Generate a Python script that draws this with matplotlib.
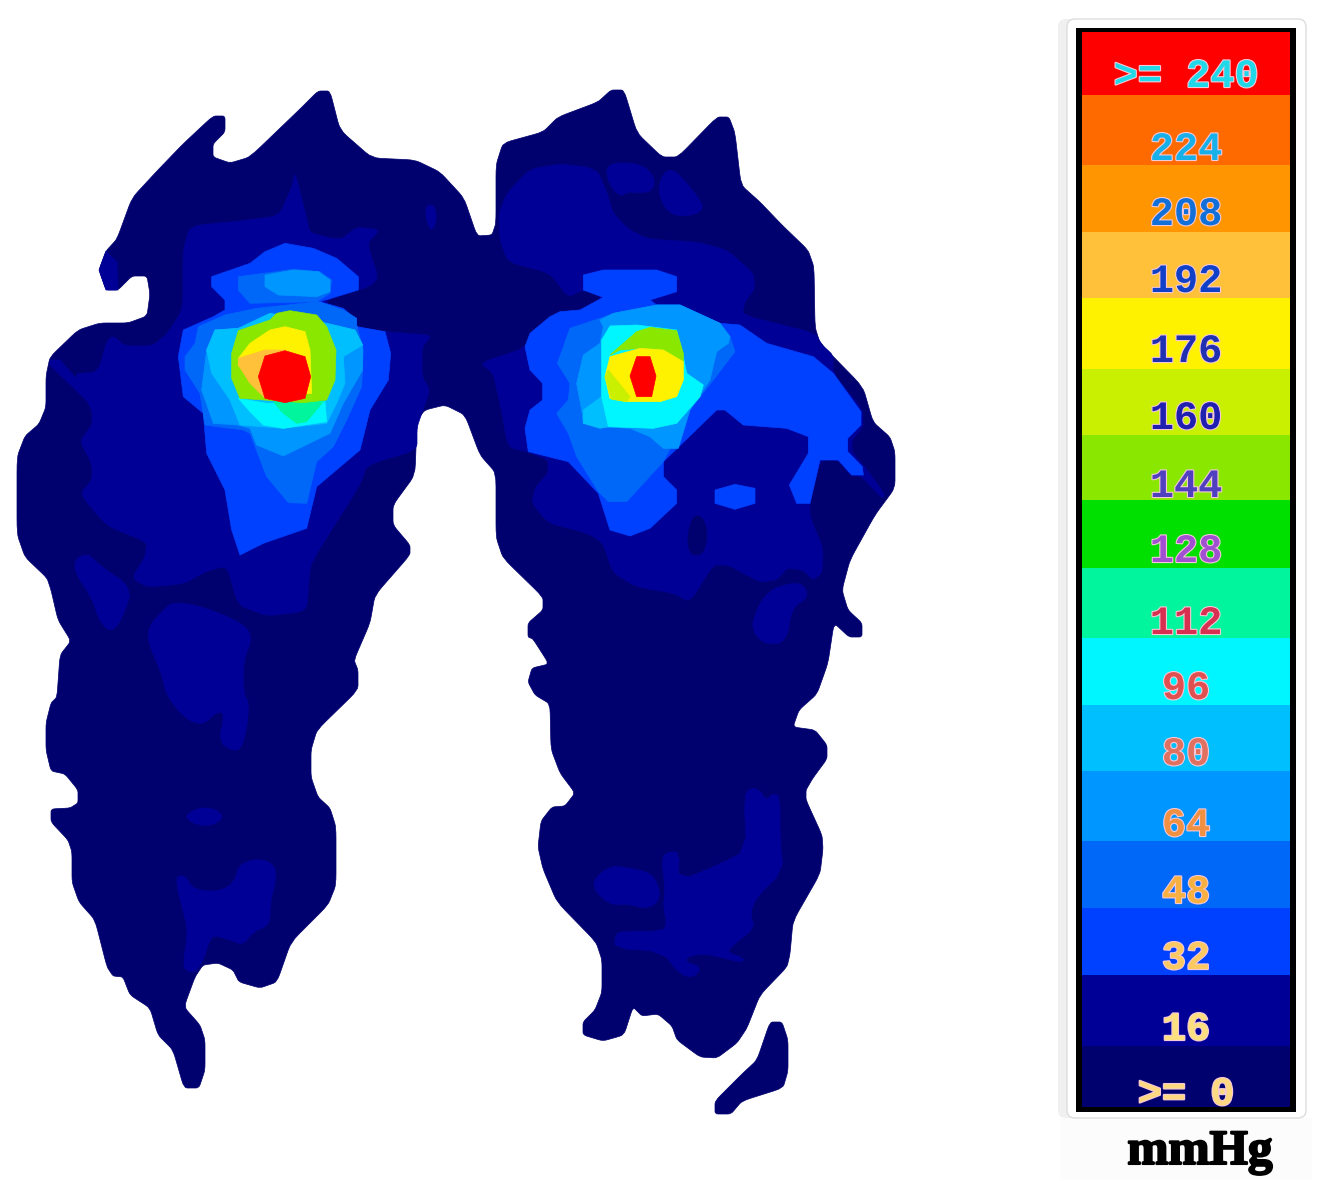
import numpy as np
import matplotlib
matplotlib.use('Agg')
import matplotlib.pyplot as plt
import matplotlib.patheffects as pe
from matplotlib.patches import FancyBboxPatch, Rectangle

# pressure scale (mmHg)
levels = [240, 224, 208, 192, 176, 160, 144, 128, 112, 96, 80, 64, 48, 32, 16, 0]
level_labels = ['>= 240', '224', '208', '192', '176', '160', '144', '128', '112', '96', '80', '64', '48', '32', '16', '>= 0']
level_cols = ['#ff0000', '#ff6a00', '#ff9500', '#ffc03a', '#fff200', '#c8f000', '#8ae800', '#00e000',
              '#00f59c', '#00f6ff', '#00bfff', '#0096ff', '#0068f8', '#0040ff', '#000096', '#00006e']
label_cols = ['#20d8e8', '#18b0e8', '#1070d8', '#1040c8', '#2030b0', '#2020b0', '#5040c0', '#a050d0',
              '#d83050', '#e05050', '#e07060', '#f09040', '#f8b040', '#fcc860', '#fce080', '#fcd880']
band_edges = [32, 95, 165, 232, 298, 369, 435, 500, 568, 638, 705, 771, 841, 908, 975, 1046, 1107]
label_y = [76, 149, 214, 281, 351, 418, 486, 551, 623, 688, 754, 825, 892, 958, 1029, 1094]
col_of = dict(zip(levels, level_cols))

# contour outlines, image pixels
feet_outline = [(213,116),(183,144),(157,171),(132,198),(117,239),(106,251),(99,270),(106,290),(118,290),(132,276),
    (147,276),(150,294),(147,316),(128,323),(100,323),(78,330),(50,357),(46,376),(46,407),(39,424),(25,436),(17,457),
    (17,534),(25,557),(47,578),(51,590),(58,620),(71,641),(60,655),(57,697),(51,703),(46,723),(46,750),(51,771),(65,774),
    (78,790),(78,803),(70,808),(51,809),(51,822),(68,840),(72,852),(72,882),(79,902),(95,920),(107,967),(113,976),(123,977),
    (130,995),(150,1008),(158,1035),(173,1050),(184,1088),(199,1088),(205,1070),(205,1040),(200,1025),(184,1007),(195,977),
    (203,965),(218,963),(233,970),(239,982),(260,988),(277,982),(291,942),(328,905),(336,885),(336,827),(330,808),(318,797),
    (311,777),(311,750),(317,730),(358,690),(358,670),(354,660),(370,623),(375,595),(410,555),(410,545),(393,525),(393,505),
    (415,475),(417,420),(425,410),(445,405),(465,415),(480,455),(496,473),(496,537),(503,558),(543,597),(543,610),(528,623),
    (528,637),(533,639),(549,664),(532,668),(528,682),(535,695),(550,704),(551,749),(560,773),(575,793),(565,806),(552,807),
    (541,821),(538,847),(543,869),(557,902),(596,942),(602,960),(602,992),(595,1010),(583,1022),(583,1035),(603,1041),
    (624,1035),(633,1007),(642,1016),(658,1014),(672,1026),(677,1040),(700,1057),(717,1058),(737,1043),(747,1028),(760,995),
    (787,967),(790,954),(793,921),(820,874),(823,849),(822,835),(806,800),(806,790),(813,778),(827,759),(827,745),(815,730),
    (793,727),(799,710),(817,694),(828,663),(834,623),(849,637),(862,637),(862,623),(848,610),(842,590),(850,560),(875,515),
    (895,488),(895,452),(890,437),(873,422),(863,387),(820,343),(815,327),(814,267),(808,250),(782,225),(760,202),(741,185),
    (735,133),(729,117),(717,117),(678,157),(662,157),(637,133),(624,90),(611,90),(598,102),(558,117),(543,132),(503,143),
    (496,165),(496,223),(492,235),(477,236),(464,198),(440,172),(415,160),(372,158),(340,130),(330,91),(318,91),(300,109),
    (250,157),(230,163),(213,157),(213,144),(225,132),(225,116)]
toe_piece = [(770,1022),(782,1022),(788,1040),(788,1071),(783,1088),(742,1101),(731,1114),(715,1114),(715,1101),(742,1074),(757,1060)]

left_16 = [(295,172),(292,187),(279,216),(240,221),(190,226),(183,251),(183,309),(167,334),(152,346),(125,346),(113,336),
    (107,341),(98,372),(73,374),(92,410),(92,425),(80,441),(92,464),(92,480),(80,494),(107,526),(147,542),(145,557),(132,578),
    (147,587),(183,584),(207,571),(227,566),(238,605),(267,616),(300,612),(307,607),(310,567),(317,553),(360,485),(367,465),
    (417,450),(417,427),(423,410),(430,390),(422,377),(422,347),(432,335),(387,332),(357,327),(320,302),(380,283),(367,243),
    (380,230),(357,227),(340,240),(310,233),(307,220)]
left_16_toe = [(99,270),(106,251),(117,262),(118,290),(106,290)]
left_16_strip = [(50,360),(60,360),(95,400),(88,402),(50,365)]
left_16_spot = [(426,205),(434,205),(437,218),(432,232),(426,220)]
left_16_a = [(75,559),(88,553),(100,566),(132,587),(125,612),(113,633),(100,623),(92,598),(75,573)]

# same kind of outlines, given in the coordinates of the zoomed crops
arch_z8 = [(430,65),(520,80),(640,130),(668,175),(640,240),(640,340),(660,375),(640,500),(610,515),(565,485),(585,400),
    (560,395),(520,435),(470,420),(410,350),(395,280),(355,190),(355,140),(400,90)]
spot_z8 = [(465,710),(490,690),(525,682),(560,690),(580,710),(560,730),(525,738),(490,730)]
heel_z8 = [(435,890),(465,885),(490,930),(570,935),(615,905),(625,855),(680,835),(730,850),(740,890),(720,970),(720,1035),
    (670,1055),(640,1095),(600,1080),(550,1065),(535,1090),(520,1140),(495,1180),(465,1170),(460,1145),(475,1050),(455,980)]

left_32 = [(405,70),(490,85),(560,115),(625,170),(625,210),(510,245),(580,265),(620,300),(620,320),(705,335),(722,400),
    (715,480),(660,570),(630,690),(500,800),(470,925),(340,970),(270,1005),(245,930),(225,810),(170,700),(160,580),(100,530),
    (85,410),(100,330),(190,290),(225,270),(225,240),(185,200),(185,170),(300,130),(345,95)]
left_48_top = [(265,170),(340,160),(430,148),(510,155),(545,180),(540,220),(500,245),(300,250),(265,210)]
left_64_top = [(345,165),(430,150),(505,155),(540,180),(540,215),(500,230),(385,225),(345,200)]
left_48 = [(105,410),(135,370),(145,320),(225,285),(320,265),(505,245),(580,270),(620,295),(620,315),(640,390),(635,500),
    (590,600),(550,680),(500,725),(470,850),(415,848),(350,770),(300,640),(280,630),(165,615),(150,520),(105,450)]
left_64 = [(95,300),(110,180),(135,120),(205,115),(300,70),(470,100),(555,120),(578,165),(578,240),(520,340),(480,430),
    (340,498),(260,465),(240,415),(205,405),(130,400)]
left_80 = [(110,180),(135,120),(205,115),(300,70),(470,100),(555,120),(578,165),(520,200),(525,280),(500,340),(470,400),
    (340,415),(210,405),(180,330),(125,250)]
left_96 = [(205,325),(290,340),(465,335),(470,395),(340,415),(280,405),(240,365)]
left_112 = [(310,335),(460,335),(410,395),(380,400),(340,370)]
left_144 = [(205,122),(300,90),(320,70),(360,62),(440,75),(470,110),(498,180),(495,270),(470,330),(400,338),(210,325),(185,265),(185,190)]
left_176 = [(205,205),(240,160),(300,120),(345,110),(405,125),(420,180),(425,310),(290,325),(270,290),(205,225)]
left_192 = [(205,205),(285,180),(345,180),(285,200),(265,260),(285,325),(240,280),(205,225)]
left_240 = [(285,198),(345,182),(405,200),(422,260),(405,325),(345,338),(285,325),(265,260)]

right_16 = [(530,169),(560,164),(587,167),(598,172),(607,193),(613,213),(627,228),(647,239),(697,242),(727,250),(753,273),
    (755,288),(745,302),(742,315),(815,333),(822,345),(833,355),(833,373),(863,410),(863,427),(852,440),(852,452),(865,467),
    (885,495),(882,498),(862,477),(850,475),(838,460),(820,460),(810,503),(810,517),(823,548),(822,573),(813,580),(803,570),
    (787,568),(777,580),(760,582),(743,573),(728,565),(713,565),(690,602),(673,593),(637,587),(613,573),(603,543),(587,533),
    (548,523),(532,503),(535,488),(548,473),(548,460),(528,452),(508,447),(500,403),(493,373),(480,363),(525,348),(550,317),
    (560,312),(580,310),(603,297),(583,290),(568,297),(550,273),(508,262),(500,240),(499,213),(507,193)]
right_0_hole = [(693,515),(703,517),(708,535),(703,555),(690,555),(687,537)]
right_16_toe1 = [(606,163),(640,163),(655,177),(653,190),(643,193),(627,192),(620,197),(608,183)]
right_16_toe2 = [(670,169),(680,175),(702,202),(702,212),(683,217),(667,212),(658,193),(662,175)]
ball_z6 = [(740,30),(830,5),(860,25),(860,55),(815,80),(800,180),(740,188),(705,160),(695,120)]
heel_z6 = [(425,805),(445,790),(478,790),(475,875),(600,825),(680,785),(672,630),(690,603),(720,610),(738,640),(760,620),
    (780,630),(780,760),(790,845),(710,920),(690,970),(705,1010),(640,1060),(620,1080),(675,1100),(660,1110),(600,1095),
    (550,1085),(500,1095),(500,1110),(545,1125),(520,1155),(480,1145),(425,1078),(285,1070),(285,1030),(310,1020),(430,1020),
    (440,995),(430,950),(435,900)]
heel2_z6 = [(220,870),(270,830),(320,835),(395,850),(420,900),(415,935),(380,955),(320,940),(275,945),(225,905)]

right_32 = [(310,105),(370,90),(530,90),(590,110),(590,155),(510,180),(530,195),(600,195),(720,250),(780,255),(860,310),
    (1000,350),(1060,400),(1143,515),(1143,555),(1103,595),(1103,635),(1147,680),(1150,705),(1115,705),(1075,660),(1020,660),
    (990,790),(950,790),(928,735),(985,640),(985,590),(920,565),(790,555),(735,510),(710,510),(550,665),(550,710),(590,750),
    (590,790),(510,865),(450,888),(390,870),(355,760),(265,665),(145,635),(135,565),(150,510),(188,480),(188,430),(150,390),
    (135,320),(150,280),(210,230),(240,215),(300,210),(370,172),(310,150)]
right_32_blob = [(705,750),(765,733),(825,745),(825,790),(765,808),(705,790)]
right_48 = [(232,370),(270,265),(360,235),(400,220),(530,195),(600,195),(720,250),(750,290),(765,335),(700,420),(630,510),
    (550,665),(440,785),(385,785),(355,755),(290,650),(265,580),(230,520),(265,480),(270,430)]
right_64 = [(360,240),(400,220),(530,195),(600,195),(720,250),(750,290),(745,310),(710,335),(690,420),(630,510),(595,625),
    (550,625),(510,590),(450,565),(350,560),(310,550),(305,510),(290,430),(310,345),(360,310),(370,260)]
right_80 = [(310,510),(365,470),(385,560),(360,565),(310,550)]
right_96 = [(390,258),(470,255),(590,270),(610,350),(620,400),(670,435),(660,470),(590,550),(520,565),(385,560),(365,470),(365,300)]
right_144 = [(390,345),(470,275),(510,262),(590,272),(610,340),(610,365),(550,330),(480,325),(420,330)]
right_176 = [(390,350),(480,325),(550,330),(610,365),(610,420),(590,470),(540,485),(440,485),(390,475),(375,410)]
right_160 = [(375,410),(385,390),(450,470),(440,485),(395,478)]
right_240 = [(470,350),(510,350),(528,408),(515,470),(470,470),(450,408)]


def crop(points, x0, y0, sx=3.0, sy=3.0):
    pts = np.array(points, dtype=float)
    return np.column_stack([x0 + pts[:, 0] / sx, y0 + pts[:, 1] / sy])


def smooth(pts, n=2, r=0.25):
    pts = np.asarray(pts, dtype=float)
    for _ in range(n):
        nxt = np.roll(pts, -1, axis=0)
        pts = np.column_stack([(1 - r) * pts + r * nxt, r * pts + (1 - r) * nxt]).reshape(-1, 2)
    return pts


z3 = (150, 220)
z4 = (480, 240)
z8 = (30, 580)
z9 = (170, 290)
z6 = (520, 580, 3.0, 2.904)

regions = [
    (0, smooth(feet_outline, 2, 0.12)), (0, smooth(toe_piece, 2, 0.12)),
    (16, smooth(left_16, 2, 0.15)), (16, left_16_toe), (16, left_16_strip), (16, smooth(left_16_spot)), (16, smooth(left_16_a)),
    (16, smooth(crop(arch_z8, *z8))), (16, smooth(crop(spot_z8, *z8))), (16, smooth(crop(heel_z8, *z8))),
    (16, smooth(right_16, 2, 0.15)), (0, smooth(right_0_hole)), (16, smooth(right_16_toe1)), (16, smooth(right_16_toe2)),
    (16, smooth(crop(ball_z6, *z6))), (16, smooth(crop(heel_z6, *z6), 1)), (16, smooth(crop(heel2_z6, *z6))),
    (32, crop(left_32, *z3)), (48, crop(left_48_top, *z3)), (64, crop(left_64_top, *z3)),
    (48, crop(left_48, *z3)), (64, crop(left_64, *z9)), (80, crop(left_80, *z9)), (96, crop(left_96, *z9)),
    (112, crop(left_112, *z9)), (144, crop(left_144, *z9)), (176, crop(left_176, *z9)), (192, crop(left_192, *z9)),
    (240, crop(left_240, *z9)),
    (32, crop(right_32, *z4)), (32, crop(right_32_blob, *z4)), (48, crop(right_48, *z4)), (64, crop(right_64, *z4)),
    (80, crop(right_80, *z4)), (96, crop(right_96, *z4)), (144, crop(right_144, *z4)), (176, crop(right_176, *z4)),
    (160, crop(right_160, *z4)), (240, crop(right_240, *z4)),
]

fig = plt.figure(figsize=(13.29, 11.95), dpi=100)
ax = fig.add_axes([0, 0, 1, 1])
ax.set_xlim(0, 1329)
ax.set_ylim(1195, 0)
ax.axis('off')

for lev, pts in regions:
    pts = np.asarray(pts)
    ax.fill(pts[:, 0], pts[:, 1], color=col_of[lev], lw=0.5, joinstyle='round')

# scale panel
ax.add_patch(Rectangle((1060, 1118), 252, 62, fc='#fcfcfc', ec='none'))
ax.add_patch(FancyBboxPatch((1062, 23), 240, 1091, boxstyle='round,pad=4,rounding_size=8', fc='#f0f0f0', ec='none'))
ax.add_patch(FancyBboxPatch((1071, 23), 231, 1091, boxstyle='round,pad=4,rounding_size=8', fc='white', ec='#dddddd', lw=1))
ax.add_patch(Rectangle((1076, 28), 220, 1084, fc='black', ec='none'))

tops = np.array(band_edges[:-1])
heights = np.diff(band_edges)
ax.bar(np.full(len(levels), 1186), heights, width=208, bottom=tops, color=level_cols, lw=0)

for txt, y, col in zip(level_labels, label_y, label_cols):
    ax.text(1186, y, txt, ha='center', va='center', family='Liberation Mono', weight='bold', fontsize=29,
            color=col, path_effects=[pe.withStroke(linewidth=1.6, foreground='#f4c8d8')])

ax.text(1200, 1152, 'mmHg', ha='center', va='center', family='Liberation Serif', weight='bold', fontsize=35.5,
        color='black', path_effects=[pe.withStroke(linewidth=1.5, foreground='black')])

fig.savefig('out.png', dpi=100)
